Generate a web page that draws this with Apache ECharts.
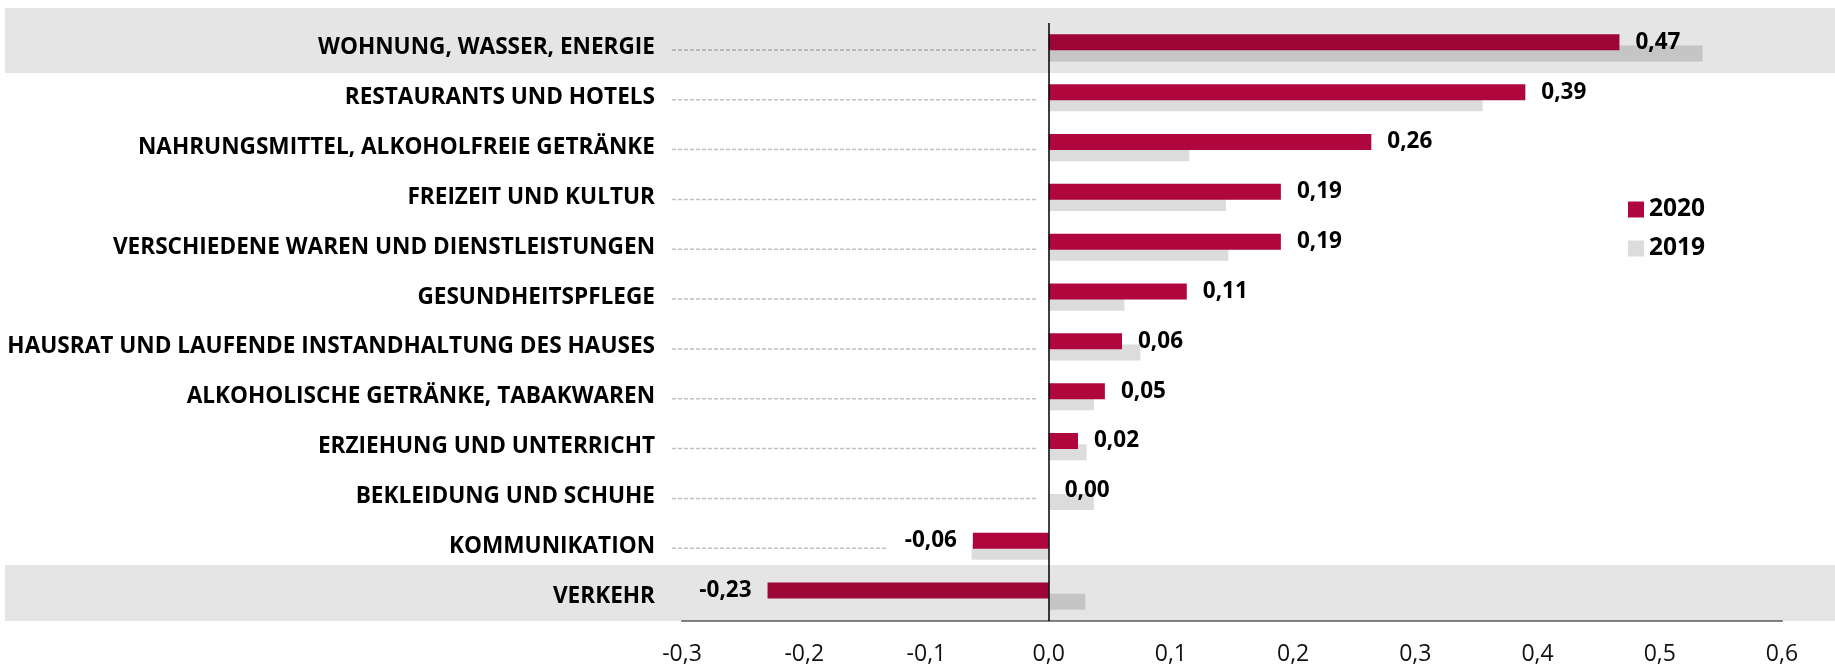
<!DOCTYPE html>
<html>
<head>
<meta charset="utf-8">
<script src="https://cdn.jsdelivr.net/npm/echarts@6/dist/echarts.min.js"></script>
<style>
  html, body { margin: 0; padding: 0; background: #ffffff; }
  #chart { width: 1835px; height: 666px; }
</style>
</head>
<body>
<div id="chart"></div>
<script>
const categories = [
  'WOHNUNG, WASSER, ENERGIE',
  'RESTAURANTS UND HOTELS',
  'NAHRUNGSMITTEL, ALKOHOLFREIE GETRÄNKE',
  'FREIZEIT UND KULTUR',
  'VERSCHIEDENE WAREN UND DIENSTLEISTUNGEN',
  'GESUNDHEITSPFLEGE',
  'HAUSRAT UND LAUFENDE INSTANDHALTUNG DES HAUSES',
  'ALKOHOLISCHE GETRÄNKE, TABAKWAREN',
  'ERZIEHUNG UND UNTERRICHT',
  'BEKLEIDUNG UND SCHUHE',
  'KOMMUNIKATION',
  'VERKEHR'
];
const values2020 = [0.467, 0.39, 0.264, 0.19, 0.19, 0.113, 0.06, 0.046, 0.024, 0.00, -0.062, -0.23];
const values2019 = [0.535, 0.355, 0.115, 0.145, 0.147, 0.062, 0.075, 0.037, 0.031, 0.037, -0.063, 0.03];
const xTicks = { min: -0.3, max: 0.6, interval: 0.1 };
const seriesNames = ['2020', '2019'];

const FONT = "'Open Sans', 'Noto Sans', sans-serif";
const RED = '#B0063E';
const GRAY = '#DCDCDC';

const fmt = v => (Math.round(v * 100) / 100).toFixed(2).replace('.', ',');

// leader lines: end just before the zero line, or before the label for negative values
const leaderData = categories.map((c, i) => {
  const v = values2020[i];
  const end = v < 0 ? v - 0.07 : -0.01;
  return [i, end];
}).filter(d => d[1] > -0.28);

const chart = echarts.init(document.getElementById('chart'), null, { renderer: 'canvas' });

chart.setOption({
  animation: false,
  backgroundColor: '#ffffff',
  textStyle: { fontFamily: FONT },
  grid: { left: 682, right: 53, top: 23, bottom: 45, containLabel: false },
  legend: {
    data: seriesNames,
    orient: 'vertical',
    left: 1623,
    top: 192,
    itemWidth: 16,
    itemHeight: 16,
    itemGap: 14,
    icon: 'rect',
    textStyle: { fontFamily: FONT, fontWeight: 'bold', fontSize: 24.5, color: '#000' }
  },
  xAxis: {
    type: 'value',
    min: xTicks.min,
    max: xTicks.max,
    interval: xTicks.interval,
    axisLine: { show: true, lineStyle: { color: '#878787', width: 2 } },
    axisTick: { show: false },
    splitLine: { show: false },
    axisLabel: {
      margin: 22,
      fontFamily: FONT,
      fontSize: 23,
      color: '#111',
      formatter: v => (Math.round(v * 10) / 10).toFixed(1).replace('.', ',').replace('-0,0', '0,0')
    }
  },
  yAxis: {
    type: 'category',
    inverse: true,
    data: categories,
    axisLine: { show: false },
    axisTick: { show: false },
    splitLine: { show: false },
    axisLabel: {
      margin: 27,
      fontFamily: FONT,
      fontWeight: 'bold',
      fontSize: 22.6,
      color: '#000'
    }
  },
  series: [
    {
      name: '2020',
      type: 'bar',
      z: 4,
      barWidth: 16,
      barGap: '-30%',
      itemStyle: { color: RED },
      data: values2020.map(v => ({
        value: v,
        label: { position: v < 0 ? 'left' : 'right' }
      })),
      label: {
        show: true,
        distance: 16,
        fontFamily: FONT,
        fontWeight: 'bold',
        fontSize: 22.5,
        color: '#000',
        formatter: p => fmt(p.value)
      },
      markLine: {
        silent: true,
        symbol: ['none', 'none'],
        label: { show: false },
        lineStyle: { color: '#000', width: 1.5, type: 'solid' },
        data: [{ xAxis: 0 }]
      }
    },
    {
      name: '2019',
      type: 'bar',
      z: 2,
      barWidth: 16,
      barGap: '-30%',
      itemStyle: { color: GRAY },
      data: values2019
    },
    {
      name: 'leader',
      type: 'custom',
      z: 1,
      silent: true,
      data: leaderData,
      renderItem: (params, api) => {
        const i = api.value(0);
        const p0 = api.coord([xTicks.min, i]);
        const p1 = api.coord([api.value(1), i]);
        const y = p0[1] + 2;
        return {
          type: 'line',
          shape: { x1: p0[0] - 10, y1: y, x2: p1[0], y2: y },
          style: { stroke: '#C0C0C0', lineWidth: 1.5, lineDash: [4, 2] }
        };
      }
    }
  ],
  graphic: [
    { type: 'rect', z: 100, silent: true, shape: { x: 5, y: 8, width: 1830, height: 65 }, style: { fill: 'rgba(0,0,0,0.1)' } },
    { type: 'rect', z: 100, silent: true, shape: { x: 5, y: 565, width: 1830, height: 56 }, style: { fill: 'rgba(0,0,0,0.1)' } }
  ]
});
</script>
</body>
</html>
